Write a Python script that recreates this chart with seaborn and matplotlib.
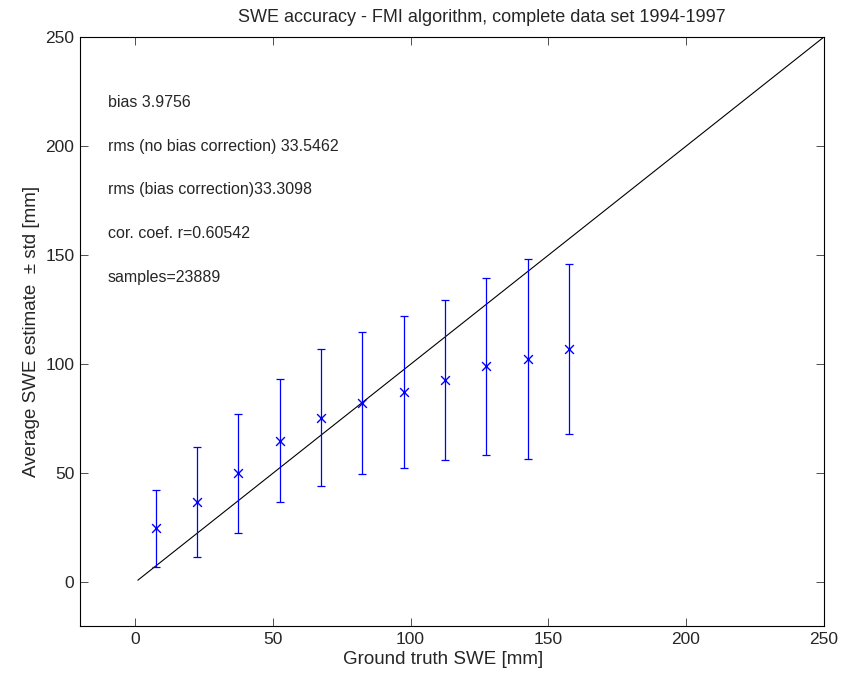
import numpy as np
import pandas as pd
import matplotlib
matplotlib.use("Agg")
import matplotlib.pyplot as plt
import seaborn as sns

# =========================
# DATA
# =========================
truth_swe = [7.5, 22.5, 37.5, 52.5, 67.5, 82.5, 97.5, 112.5, 127.5, 142.5, 157.5]
mean_est = [24.8, 36.7, 50.0, 65.0, 75.5, 82.1, 87.3, 92.8, 99.2, 102.4, 107.2]
upper_est = [42.3, 62.2, 77.1, 93.3, 107.0, 114.7, 122.3, 129.5, 139.7, 148.3, 145.9]
lower_est = [6.9, 11.7, 22.8, 37.0, 44.0, 49.7, 52.4, 56.0, 58.4, 56.6, 68.2]

one_to_one = [1, 250]

stats_text = [
    "bias 3.9756",
    "rms (no bias correction) 33.5462",
    "rms (bias correction)33.3098",
    "cor. coef. r=0.60542",
    "samples=23889",
]
stats_y = [220, 200, 180, 160, 140]

df = pd.DataFrame({"truth": truth_swe, "mean": mean_est,
                   "upper": upper_est, "lower": lower_est})
line_df = pd.DataFrame({"x": one_to_one, "y": one_to_one})

# =========================
# STYLE
# =========================
sns.set_style("ticks")
plt.rcParams["font.family"] = ["Liberation Sans", "DejaVu Sans"]
plt.rcParams["xtick.direction"] = "in"
plt.rcParams["ytick.direction"] = "in"

fig = plt.figure(figsize=(8.51, 6.75), dpi=100)
ax = fig.add_axes([0.094, 0.0726, 0.874, 0.8724])

# 1:1 line
sns.lineplot(data=line_df, x="x", y="y", color="black", linewidth=0.8, ax=ax)

# error bars (mean +- std)
ax.errorbar(df["truth"], df["mean"],
            yerr=[df["mean"] - df["lower"], df["upper"] - df["mean"]],
            fmt="none", ecolor="#0000ff", elinewidth=0.9, capsize=3, capthick=0.9)

# mean markers
sns.scatterplot(data=df, x="truth", y="mean", marker="x", color="#0000ff",
                s=40, linewidth=1.0, ax=ax, zorder=3)

for txt, yy in zip(stats_text, stats_y):
    ax.text(-10, yy, txt, fontsize=11.5, va="center", ha="left")

ax.set_xlim(-20, 250)
ax.set_ylim(-20, 250)
ax.set_xticks([0, 50, 100, 150, 200, 250])
ax.set_yticks([0, 50, 100, 150, 200, 250])
ax.tick_params(axis="both", which="both", top=True, right=True,
               length=6, width=0.6, labelsize=12.5, color="#333333", pad=4)
for sp in ax.spines.values():
    sp.set_linewidth(0.8)
    sp.set_color("black")

ax.set_title("SWE accuracy - FMI algorithm, complete data set 1994-1997",
             fontsize=13, pad=11, x=0.54)
ax.set_xlabel("Ground truth SWE [mm]", fontsize=13.5, labelpad=3, x=0.488)
ax.set_ylabel("Average SWE estimate  \u00b1 std [mm]", fontsize=13.5, labelpad=4)

plt.savefig("out.png", dpi=100)
plt.close()
